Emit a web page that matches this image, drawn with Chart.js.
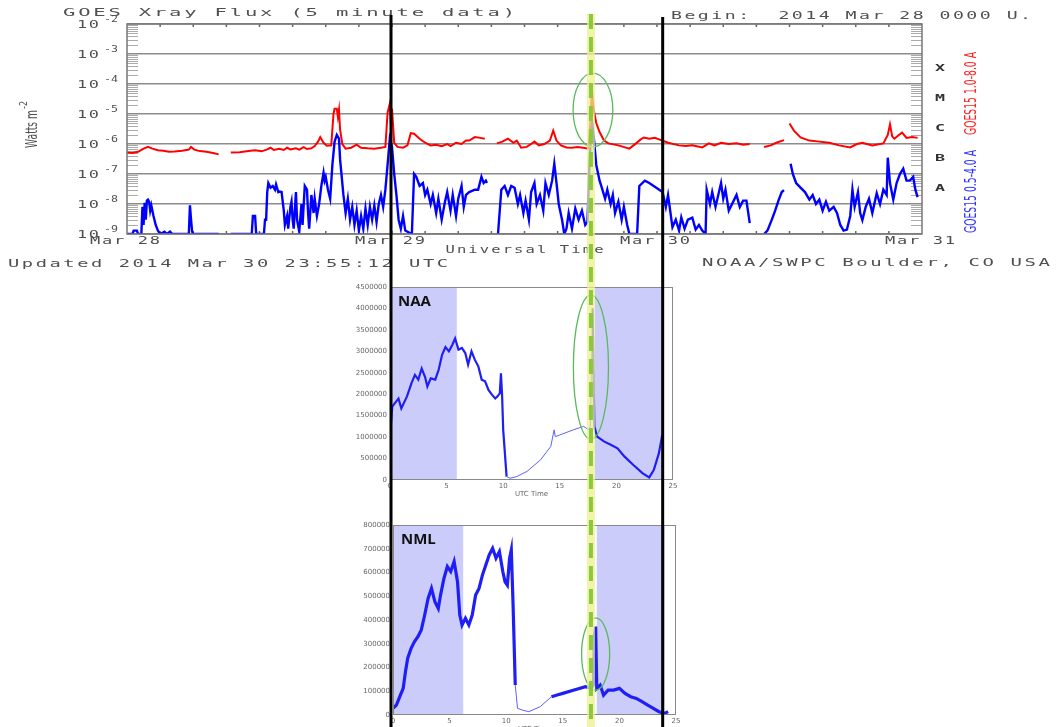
<!DOCTYPE html>
<html><head><meta charset="utf-8">
<script src="https://cdn.jsdelivr.net/npm/chart.js@4.4.1/dist/chart.umd.min.js"></script>
<style>
html,body{margin:0;padding:0;background:#fff;width:1057px;height:727px;overflow:hidden}
#wrap{position:relative;width:1057px;height:727px}
canvas{position:absolute;left:0;top:0}
#goes{pointer-events:none}
</style></head><body>
<div id="wrap">
<canvas id="naa" width="1057" height="727"></canvas>
<canvas id="nml" width="1057" height="727"></canvas>
<canvas id="goes" width="1057" height="727"></canvas>
</div>
<script>
// ---------- data ----------
const dayLabels = ['Mar 28','Mar 29','Mar 30','Mar 31'];
const dayHours = [0,24,48,72];
const decadeExps = [-9,-8,-7,-6,-5,-4,-3,-2];
const flareClasses = ['A','B','C','M','X'];
const flareExps = [-7.5,-6.5,-5.5,-4.5,-3.5];
// GOES15 1.0-8.0 A (hours since 2014 Mar 28 00:00 UT, W m^-2)
const goesLong = [[0,5.2e-7],[0.5,5e-7],[1,5.5e-7],[1.5,7e-7],[1.9,8e-7],[2.3,7e-7],[2.8,6.2e-7],[3.3,6e-7],[3.8,5.5e-7],[4.3,5.6e-7],[5,6e-7],[5.6,6.5e-7],[5.8,8e-7],[6.1,6.5e-7],[6.6,5.8e-7],[7.2,5.5e-7],[7.8,5e-7],[8.3,4.5e-7],[8.6,null],[9.4,5.2e-7],[10.2,5.3e-7],[11,5.8e-7],[11.6,6.2e-7],[12.2,5.7e-7],[12.7,6.6e-7],[13,7.5e-7],[13.3,6.3e-7],[13.8,6.9e-7],[14.2,6.3e-7],[14.5,7.5e-7],[14.8,6.6e-7],[15.3,7.2e-7],[15.6,6.5e-7],[16,7.8e-7],[16.3,6.8e-7],[16.7,7.2e-7],[17,8.5e-7],[17.3,1.2e-6],[17.5,1.7e-6],[17.8,1.1e-6],[18.1,8.8e-7],[18.5,9e-7],[18.7,1e-5],[18.8,1.5e-5],[19,1.5e-5],[19.1,8e-6],[19.2,1.4e-5],[19.3,3e-6],[19.5,1e-6],[19.8,7e-7],[20.3,7.5e-7],[20.8,9.5e-7],[21.2,7.5e-7],[21.8,7.2e-7],[22.4,7e-7],[23,7.5e-7],[23.4,8e-7],[23.6,1.1e-5],[23.8,2.2e-5],[23.9,5e-6],[24,1.5e-5],[24.2,1.1e-6],[24.5,8e-7],[25,7.5e-7],[25.4,9e-7],[25.7,2.3e-6],[26,2.2e-6],[26.5,1.5e-6],[27,1.1e-6],[27.5,9e-7],[28,9.5e-7],[28.5,8.5e-7],[29,1e-6],[29.3,8.5e-7],[29.8,1.1e-6],[30.3,1e-6],[30.7,1.3e-6],[31,1.3e-6],[31.5,1.7e-6],[32,1.6e-6],[32.4,1.5e-6],[32.7,null],[33.5,1.05e-6],[34,1.2e-6],[34.5,1.5e-6],[35,1.1e-6],[35.3,1.3e-6],[35.7,7.5e-7],[36.2,8e-7],[36.6,1e-6],[36.9,1.2e-6],[37.3,9e-7],[37.8,1e-6],[38.3,1.3e-6],[38.6,2.8e-6],[38.9,1.3e-6],[39.3,9e-7],[39.8,7.7e-7],[40.3,7.5e-7],[40.8,8e-7],[41.3,7.5e-7],[41.8,7e-7],[42,8e-6],[42.1,7e-5],[42.2,2.5e-5],[42.3,1.2e-5],[42.5,5e-6],[42.8,2.5e-6],[43.2,1.3e-6],[43.6,1.05e-6],[44.5,9e-7],[45.5,7e-7],[46.1,1.05e-6],[46.5,1.4e-6],[46.8,1.65e-6],[47.3,1.5e-6],[47.8,1.6e-6],[48.5,1.3e-6],[49,1.1e-6],[50,9e-7],[50.6,8.5e-7],[51.2,9e-7],[52.1,7.7e-7],[52.7,1.05e-6],[53.2,9e-7],[53.8,1.1e-6],[54.5,1e-6],[55.2,1.05e-6],[55.8,9.5e-7],[56.4,1e-6],[56.6,null],[57.7,8e-7],[58.3,9e-7],[58.8,1.1e-6],[59.5,1.35e-6],[59.8,null],[60,4.8e-6],[60.4,2.8e-6],[61,1.65e-6],[61.8,1.3e-6],[62.7,1.2e-6],[63.6,1.1e-6],[64.5,9e-7],[65.5,7.7e-7],[66.1,1e-6],[66.6,1.1e-6],[67.5,9e-7],[68.5,1.05e-6],[68.9,2e-6],[69.1,4.5e-6],[69.3,1.8e-6],[69.5,1.5e-6],[69.9,2e-6],[70.2,2.4e-6],[70.6,1.6e-6],[71.1,1.7e-6],[71.6,1.6e-6]];
// GOES15 0.5-4.0 A
const goesShort = [[0,1e-9],[0.5,1e-9],[0.6,1.3e-9],[0.9,1.3e-9],[1,1e-9],[1.3,1e-9],[1.4,8e-9],[1.5,2e-9],[1.6,1.1e-8],[1.7,3e-9],[1.8,1.3e-8],[1.9,1.4e-8],[2,1.2e-8],[2.1,6e-9],[2.2,9e-9],[2.4,4e-9],[2.6,2e-9],[2.8,1.3e-9],[3,1e-9],[3.4,1.2e-9],[3.6,1e-9],[3.9,1.2e-9],[4.1,1e-9],[5.6,1e-9],[5.7,9e-9],[5.8,3e-9],[5.9,1.2e-9],[6,1e-9],[8.3,1e-9],[8.6,null],[9.4,1e-9],[11.3,1e-9],[11.4,4e-9],[11.6,4e-9],[11.7,1e-9],[12.4,1e-9],[12.5,3e-9],[12.6,3e-9],[12.7,2.5e-8],[12.8,5e-8],[13,3.5e-8],[13.2,4e-8],[13.4,3e-8],[13.5,4.5e-8],[13.7,2.5e-8],[13.8,2.6e-8],[14,2.5e-8],[14.2,6e-9],[14.3,2e-9],[14.5,4e-9],[14.6,1.5e-9],[14.8,8e-9],[14.9,1.2e-8],[15,3e-9],[15.1,1.5e-9],[15.3,2.5e-8],[15.4,3e-9],[15.6,1.2e-9],[15.8,1e-8],[15.9,2e-9],[16.1,4e-8],[16.3,3e-8],[16.4,5e-9],[16.5,1.5e-9],[16.7,2e-8],[16.9,5e-9],[17,1.5e-8],[17.2,4e-9],[17.4,1e-8],[17.5,2e-8],[17.6,4e-8],[17.8,1.1e-7],[17.9,6e-8],[18,8e-8],[18.2,3e-8],[18.4,1.5e-8],[18.6,2e-7],[18.8,1.2e-6],[19,2e-6],[19.2,1.5e-6],[19.3,3e-7],[19.5,5e-8],[19.6,2e-8],[19.8,5e-9],[20,1.5e-8],[20.2,3e-9],[20.4,8e-9],[20.6,2e-9],[20.8,6e-9],[21,1.3e-9],[21.2,4e-9],[21.4,1.5e-9],[21.6,7e-9],[21.8,2e-9],[22,8e-9],[22.2,3e-9],[22.4,9e-9],[22.6,2.5e-9],[22.8,1e-8],[23,2e-8],[23.2,8e-9],[23.4,3e-8],[23.6,2e-7],[23.8,1.5e-6],[24,8e-7],[24.2,1e-7],[24.4,2e-8],[24.6,3e-9],[24.8,1.5e-9],[25,4e-9],[25.2,1.3e-9],[25.8,1e-9],[26,1e-7],[26.2,8e-8],[26.5,4e-8],[26.8,5e-8],[27,2e-8],[27.2,3e-8],[27.5,1e-8],[27.7,2e-8],[28,5e-9],[28.2,1.5e-8],[28.5,3e-9],[28.8,1.2e-8],[29,2.5e-8],[29.3,6e-9],[29.5,2e-8],[29.8,4e-9],[30,1.5e-8],[30.3,4e-8],[30.5,8e-9],[30.7,2e-8],[31,2.5e-8],[31.5,3e-8],[31.8,3e-8],[32.1,8e-8],[32.3,5e-8],[32.5,6e-8],[32.6,5e-8],[32.7,null],[33.6,1e-9],[33.9,3e-8],[34.2,4e-8],[34.5,2e-8],[34.8,4e-8],[35.1,3.5e-8],[35.4,1e-8],[35.6,2e-8],[35.9,5e-9],[36.1,1.3e-8],[36.4,3e-9],[36.6,2.5e-8],[36.9,5e-8],[37.1,1e-8],[37.4,2e-8],[37.7,6e-9],[37.9,5e-8],[38.2,2e-8],[38.5,6e-8],[38.7,2.2e-7],[38.9,5e-8],[39.1,1e-8],[39.4,3e-9],[39.6,1e-9],[39.8,1.5e-9],[40,5e-9],[40.3,1.5e-9],[40.6,7e-9],[40.9,3e-9],[41.2,6e-9],[41.5,2e-9],[41.7,2.5e-9],[41.9,3e-7],[42.1,6e-6],[42.2,3e-6],[42.3,1.3e-6],[42.5,2e-7],[42.8,6e-8],[43,3.5e-8],[43.3,1.5e-8],[43.5,3e-8],[43.8,1e-8],[44,2e-8],[44.2,5e-9],[44.5,1.2e-8],[44.8,3e-9],[45,8e-9],[45.3,2e-9],[45.5,1e-9],[46.2,1e-9],[46.4,4e-8],[46.9,6e-8],[47.3,5e-8],[47.7,4e-8],[48.2,3e-8],[48.5,2.5e-8],[48.8,8e-9],[49,2e-8],[49.4,1.7e-9],[49.7,3e-9],[50,1.3e-9],[50.2,3.6e-9],[50.5,1.5e-9],[50.8,3e-9],[51.2,3.5e-9],[51.5,1.4e-9],[51.8,2e-9],[52.1,1.3e-9],[52.4,1e-9],[52.5,3e-8],[52.8,1e-8],[53,2.5e-8],[53.3,8e-9],[53.8,5e-8],[54,1.5e-8],[54.2,3e-8],[54.5,6e-9],[54.8,1e-8],[55.2,2e-8],[55.5,8e-9],[55.8,1.3e-8],[56.1,1.3e-8],[56.4,2.3e-9],[56.6,null],[57.7,1e-9],[58,1.3e-9],[58.4,3e-9],[58.7,6e-9],[59,1.3e-8],[59.3,2.5e-8],[59.5,2.9e-8],[59.8,null],[60.1,2.2e-7],[60.3,1e-7],[60.6,5e-8],[61,3.5e-8],[61.4,2.5e-8],[61.8,1.4e-8],[62.1,2e-8],[62.4,1e-8],[62.7,1.4e-8],[63,6e-9],[63.3,1.2e-8],[63.6,6e-9],[64,8e-9],[64.3,5e-9],[64.6,2e-9],[64.9,1.3e-9],[65.2,1.4e-9],[65.5,4e-9],[65.7,3e-8],[65.9,8e-9],[66.2,2.5e-8],[66.4,5e-9],[66.6,2.9e-9],[66.9,8e-9],[67.2,1.5e-8],[67.5,5e-9],[67.9,2.3e-8],[68.2,1e-8],[68.5,3e-8],[68.8,2e-8],[68.9,3.5e-7],[69.1,5e-8],[69.4,1.4e-8],[69.7,5e-8],[70,1e-7],[70.3,1.5e-7],[70.6,6e-8],[70.9,6e-8],[71.2,8e-8],[71.4,3e-8],[71.6,1.7e-8]];
// VLF amplitude, UTC hour of 2014 Mar 29
const naaSeries = [[0,1.01e6],[0.2,1.71e6],[0.45,1.8e6],[0.75,1.9e6],[1,1.67e6],[1.5,1.95e6],[1.9,2.26e6],[2.2,2.45e6],[2.5,2.34e6],[2.8,2.6e6],[3.1,2.4e6],[3.3,2.18e6],[3.6,2.37e6],[4,2.34e6],[4.3,2.57e6],[4.6,2.92e6],[4.9,3.1e6],[5.2,3.0e6],[5.5,3.15e6],[5.75,3.3e6],[6.05,3.04e6],[6.35,3.08e6],[6.65,2.96e6],[6.9,2.69e6],[7.2,3.0e6],[7.5,2.8e6],[7.8,2.65e6],[8.1,2.34e6],[8.4,2.3e6],[8.7,2.1e6],[9,1.99e6],[9.3,1.9e6],[9.5,1.95e6],[9.7,2.02e6],[9.8,2.49e6],[9.9,2.0e6],[10,1.17e6],[10.3,0.08e6],[10.6,0.04e6],[11.2,0.08e6],[12.1,0.2e6],[13.3,0.47e6],[14.2,0.78e6],[14.5,1.17e6],[14.6,1.01e6],[15,1.05e6],[16.2,1.17e6],[17.1,1.25e6],[17.55,1.17e6],[17.7,1.25e6],[17.9,4.0e6],[18.05,1.25e6],[18.3,1.01e6],[18.9,0.9e6],[19.5,0.82e6],[20.1,0.74e6],[20.7,0.55e6],[21.5,0.35e6],[22.3,0.16e6],[22.9,0.06e6],[23.3,0.23e6],[23.75,0.62e6],[24.05,1.05e6]];
const nmlSeries = [[0,28e3],[0.3,42e3],[0.6,77e3],[0.9,112e3],[1.1,182e3],[1.3,239e3],[1.6,281e3],[1.9,309e3],[2.2,330e3],[2.5,358e3],[2.8,421e3],[3.1,491e3],[3.4,533e3],[3.7,477e3],[4,449e3],[4.2,505e3],[4.5,575e3],[4.8,625e3],[5.1,604e3],[5.4,646e3],[5.7,561e3],[5.9,421e3],[6.1,379e3],[6.4,407e3],[6.7,379e3],[7,421e3],[7.3,505e3],[7.6,533e3],[7.9,589e3],[8.2,632e3],[8.5,674e3],[8.8,702e3],[9.1,660e3],[9.4,688e3],[9.7,604e3],[9.9,561e3],[10.1,547e3],[10.3,660e3],[10.45,695e3],[10.6,477e3],[10.8,126e3],[11,28e3],[11.4,21e3],[12,14e3],[13,35e3],[14,77e3],[14.5,84e3],[15,91e3],[16,105e3],[17,119e3],[17.5,112e3],[17.7,126e3],[17.8,337e3],[17.9,372e3],[18,112e3],[18.3,126e3],[18.6,84e3],[19,105e3],[19.5,105e3],[20,112e3],[20.5,91e3],[21,77e3],[21.5,70e3],[22,56e3],[22.5,42e3],[23,28e3],[23.5,14e3],[24,7e3],[24.3,14e3]];
const nightNAA = [[0,5.9],[18.1,24]];
const nightNML = [[0,6.2],[18.0,24]];
const noisyNAA = [[0,10],[17.9,24.1]];
const noisyNML = [[0,10.6],[14,24.3]];
const obsWindow = [0,24];        // black lines (UTC hours of Mar 29)
const flareHour = 17.75;         // green dashed line
const flareHourGoes = 42.2;

// ---------- helpers ----------
function fitText(ctx, text, x, y, w, o) {
  ctx.save();
  ctx.font = o.font; ctx.fillStyle = o.color || '#444';
  ctx.textBaseline = o.baseline || 'middle'; ctx.textAlign = 'left';
  const ls = o.ls || 0;
  ctx.letterSpacing = '0px';
  const nat = ctx.measureText(text).width + ls * (text.length - 1);
  ctx.letterSpacing = ls + 'px';
  ctx.translate(x, y);
  if (o.rotate) ctx.rotate(o.rotate);
  if (o.align === 'center') ctx.translate(-w / 2, 0);
  else if (o.align === 'right') ctx.translate(-w, 0);
  ctx.scale(w / nat, 1);
  ctx.fillText(text, 0, 0);
  ctx.restore();
}
const HFONT = '11px "DejaVu Sans Mono"';
const TXT = '#505050';
const pts = arr => arr.map(([x, y]) => ({x, y}));
const inAny = (v, ranges) => ranges.some(([a, b]) => v >= a && v <= b);

// ---------- lower VLF charts ----------
function lowerChart(id, series, nights, noisy, thick, ymax, ystep, pad, xH, name, ell) {
  return new Chart(document.getElementById(id), {
    type: 'line',
    data: {datasets: [{data: pts(series), borderColor: 'rgb(35,35,255)', borderWidth: 1, pointRadius: 0, tension: 0,
      segment: {
        borderWidth: c => inAny(c.p0.parsed.x, noisy) ? thick : 1,
        borderColor: c => inAny(c.p0.parsed.x, noisy) ? 'rgb(30,30,245)' : 'rgb(95,95,255)'
      }}]},
    options: {
      responsive: false, animation: false, devicePixelRatio: 1,
      layout: {padding: pad},
      plugins: {legend: {display: false}, tooltip: {enabled: false}},
      scales: {
        x: {type: 'linear', min: 0, max: 25, grid: {display: false, drawTicks: false, tickLength: 0}, border: {display: false},
            ticks: {stepSize: 5, font: {size: 7, family: 'DejaVu Sans'}, color: '#666', padding: 2, maxRotation: 0},
            afterFit: s => { s.height = xH; }},
        y: {min: 0, max: ymax, grid: {display: false, drawTicks: false, tickLength: 0}, border: {display: false},
            ticks: {stepSize: ystep, font: {size: 7, family: 'DejaVu Sans'}, color: '#666', padding: 3, callback: v => String(v)},
            afterFit: s => { s.width = 48; }}
      }
    },
    plugins: [{
      id: 'deco' + id,
      beforeDatasetsDraw(chart) {
        const {ctx, chartArea: a, scales: {x}} = chart;
        ctx.save(); ctx.fillStyle = 'rgb(204,204,250)';
        nights.forEach(([s, e]) => { const x0 = x.getPixelForValue(s), x1 = x.getPixelForValue(e); ctx.fillRect(x0, a.top, x1 - x0, a.bottom - a.top); });
        ctx.restore();
      },
      afterDatasetsDraw(chart) {
        const {ctx, chartArea: a, scales: {x, y}} = chart;
        ctx.save();
        ctx.strokeStyle = '#888'; ctx.lineWidth = 1; ctx.strokeRect(a.left + 0.5, a.top + 0.5, a.width - 1, a.height - 1);
        ctx.font = 'bold 15px "Open Sans"'; ctx.fillStyle = '#111'; ctx.textBaseline = 'top';
        ctx.fillText(name, a.left + 8, a.top + 7);
        const cx = x.getPixelForValue(ell[0]), cy = y.getPixelForValue(ell[1]);
        const rx = x.getPixelForValue(ell[0] + ell[2]) - cx, ry = cy - y.getPixelForValue(ell[1] + ell[3]);
        ctx.strokeStyle = 'rgb(90,185,90)'; ctx.lineWidth = 1.3;
        ctx.beginPath(); ctx.ellipse(cx, cy, rx, ry, 0, 0, Math.PI * 2); ctx.stroke();
        ctx.font = '7px "DejaVu Sans"'; ctx.fillStyle = '#666'; ctx.textAlign = 'center'; ctx.textBaseline = 'middle';
        ctx.fillText('UTC Time', (a.left + a.right) / 2, a.bottom + 14);
        ctx.restore();
      }
    }]
  });
}
const naaChart = lowerChart('naa', naaSeries, nightNAA, noisyNAA, 2.2, 4500000, 500000,
  {left: 342, right: 384, top: 287, bottom: 229}, 18, 'NAA', [17.75, 2.63e6, 1.55, 1.68e6]);
const nmlChart = lowerChart('nml', nmlSeries, nightNML, noisyNML, 3.2, 800000, 100000,
  {left: 345, right: 381, top: 525, bottom: 0}, 12, 'NML', [17.9, 257e3, 1.24, 152e3]);

// ---------- GOES chart (on top, also draws overlay lines) ----------
new Chart(document.getElementById('goes'), {
  type: 'line',
  data: {datasets: [
    {data: pts(goesLong), borderColor: '#ff0000', borderWidth: 2, pointRadius: 0, tension: 0, spanGaps: false},
    {data: pts(goesShort), borderColor: '#0000ff', borderWidth: 2.4, pointRadius: 0, tension: 0, spanGaps: false}
  ]},
  options: {
    responsive: false, animation: false, devicePixelRatio: 1,
    layout: {padding: {left: 127, right: 135, top: 24, bottom: 493}},
    plugins: {legend: {display: false}, tooltip: {enabled: false}},
    scales: {
      x: {type: 'linear', min: 0, max: 72, grid: {display: false}, border: {display: false}, ticks: {display: false},
          afterFit: s => { s.height = 0; }},
      y: {type: 'logarithmic', min: 1e-9, max: 1e-2, border: {display: false}, ticks: {display: false},
          grid: {color: '#8c8c8c', lineWidth: 1.5, drawTicks: false},
          afterBuildTicks: s => { s.ticks = decadeExps.map(e => ({value: Math.pow(10, e)})); },
          afterFit: s => { s.width = 0; }}
    }
  },
  plugins: [{
    id: 'goesDeco',
    beforeDatasetsDraw(chart) {
      const {ctx, chartArea: a, scales: {x, y}} = chart;
      ctx.save(); ctx.strokeStyle = '#aaa'; ctx.lineWidth = 1;
      for (let e = -9; e < -2; e++) for (let m = 2; m <= 9; m++) {
        const py = Math.round(y.getPixelForValue(m * Math.pow(10, e))) + 0.5;
        ctx.beginPath(); ctx.moveTo(a.left, py); ctx.lineTo(a.left + 11, py);
        ctx.moveTo(a.right - 11, py); ctx.lineTo(a.right, py); ctx.stroke();
      }
      ctx.strokeStyle = '#666'; ctx.lineWidth = 1.5;
      for (let h = 3; h < 72; h += 3) {
        const px = x.getPixelForValue(h);
        ctx.beginPath(); ctx.moveTo(px, a.top); ctx.lineTo(px, a.top + 3);
        ctx.moveTo(px, a.bottom); ctx.lineTo(px, a.bottom - 3); ctx.stroke();
      }
      ctx.restore();
    },
    afterDraw(chart) {
      const {ctx, chartArea: a, scales: {x, y}} = chart;
      ctx.save();
      ctx.strokeStyle = '#777'; ctx.lineWidth = 1.5; ctx.strokeRect(a.left, a.top, a.width, a.height);
      ctx.restore();
      // y tick labels
      decadeExps.forEach(e => {
        const py = y.getPixelForValue(Math.pow(10, e));
        fitText(ctx, '10', 77, py + 1, 22, {font: '10px "DejaVu Sans Mono"', ls: 1, color: TXT});
        fitText(ctx, String(e), 104, py - 4, 14, {font: '8px "DejaVu Sans Mono"', ls: 0, color: TXT});
      });
      // x tick labels
      dayHours.forEach((h, i) => fitText(ctx, dayLabels[i], x.getPixelForValue(h) - 2, 241.5, 70, {font: '10px "DejaVu Sans Mono"', ls: 1, align: 'center', color: TXT}));
      // flare classes
      flareClasses.forEach((c, i) => fitText(ctx, c, 940, y.getPixelForValue(Math.pow(10, flareExps[i])), 10, {font: 'bold 8px "DejaVu Sans Mono"', align: 'center', color: '#333'}));
      // texts
      fitText(ctx, 'GOES Xray Flux (5 minute data)', 63, 13, 452, {font: HFONT, ls: 1.5, color: TXT});
      fitText(ctx, 'Begin:  2014 Mar 28 0000 U.', 671, 16, 360, {font: HFONT, ls: 1.5, color: TXT});
      fitText(ctx, 'Universal Time', (a.left + a.right) / 2, 250, 158, {font: HFONT, ls: 1.5, align: 'center', color: TXT});
      fitText(ctx, 'Updated 2014 Mar 30 23:55:12 UTC', 8, 264, 440, {font: HFONT, ls: 1.5, color: TXT});
      fitText(ctx, 'NOAA/SWPC Boulder, CO USA', 702, 263, 348, {font: HFONT, ls: 1.5, color: TXT});
      fitText(ctx, 'Watts m', 37, 148, 38, {font: '16px "DejaVu Sans"', rotate: -Math.PI / 2, baseline: 'alphabetic', color: TXT});
      fitText(ctx, '-2', 27, 109, 8, {font: '10px "DejaVu Sans"', rotate: -Math.PI / 2, baseline: 'alphabetic', color: TXT});
      fitText(ctx, 'GOES15 1.0-8.0 A', 976, 135, 83, {font: '15px "DejaVu Sans"', rotate: -Math.PI / 2, baseline: 'alphabetic', color: '#ff2020'});
      fitText(ctx, 'GOES15 0.5-4.0 A', 976, 233, 83, {font: '15px "DejaVu Sans"', rotate: -Math.PI / 2, baseline: 'alphabetic', color: '#3030ff'});
      // green ellipse around the flare
      ctx.save();
      const cx = x.getPixelForValue(flareHourGoes), cy = y.getPixelForValue(1.35e-5);
      const rx = x.getPixelForValue(flareHourGoes + 1.8) - cx, ry = cy - y.getPixelForValue(1.35e-5 * Math.pow(10, 1.23));
      ctx.strokeStyle = 'rgb(90,185,90)'; ctx.lineWidth = 1.3;
      ctx.beginPath(); ctx.ellipse(cx, cy, rx, ry, 0, 0, Math.PI * 2); ctx.stroke();
      // overlay lines spanning all panels, placed on the VLF time axis
      const nx = naaChart.scales.x;
      const gx = nx.getPixelForValue(flareHour);
      ctx.strokeStyle = 'rgba(235,240,140,0.75)'; ctx.lineWidth = 8;
      ctx.beginPath(); ctx.moveTo(gx, 14); ctx.lineTo(gx, 727); ctx.stroke();
      ctx.strokeStyle = 'rgb(140,200,60)'; ctx.lineWidth = 4; ctx.setLineDash([15, 8]);
      ctx.beginPath(); ctx.moveTo(gx, 14); ctx.lineTo(gx, 727); ctx.stroke();
      ctx.setLineDash([]);
      ctx.strokeStyle = '#000'; ctx.lineWidth = 3;
      obsWindow.forEach((h, i) => {
        const bx = nx.getPixelForValue(h) + 1;
        ctx.beginPath(); ctx.moveTo(bx, i === 0 ? 15 : 17); ctx.lineTo(bx, 727); ctx.stroke();
      });
      ctx.restore();
    }
  }]
});
</script>
</body></html>
